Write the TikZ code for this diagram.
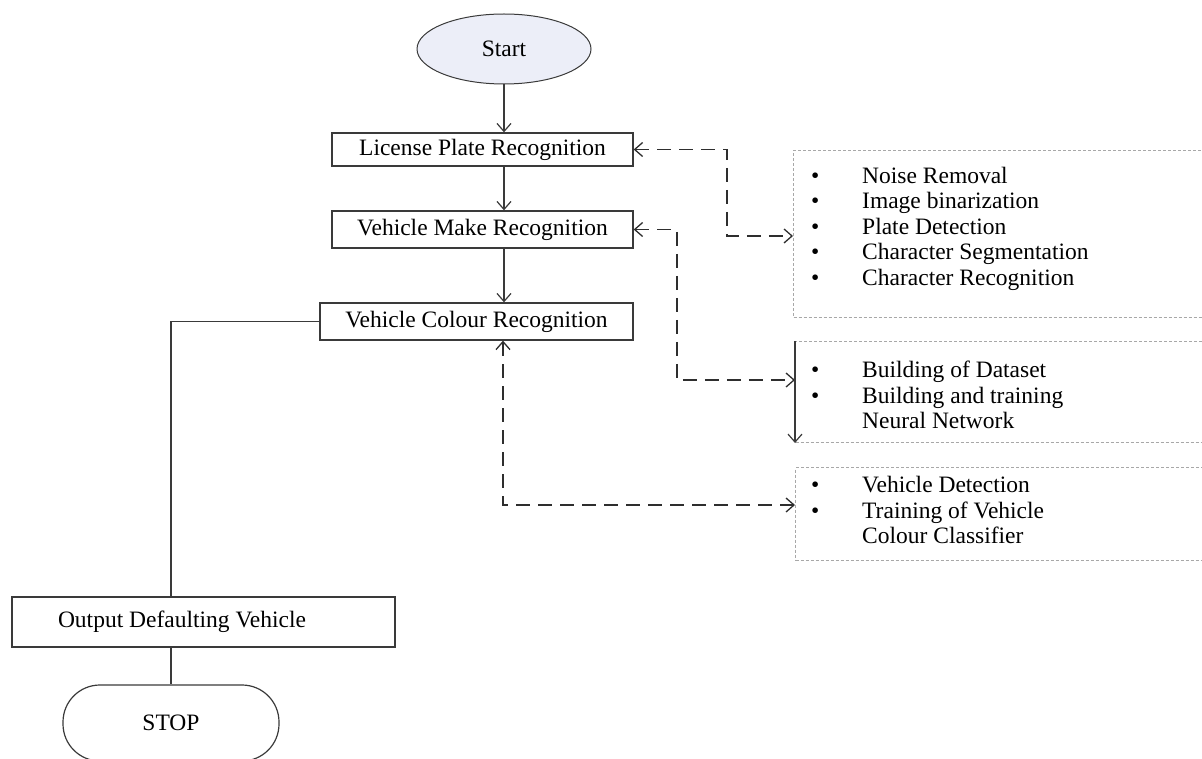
\documentclass[tikz,border=0pt]{standalone}
\usepackage{fontspec}
\setmainfont{Liberation Serif}
\usetikzlibrary{arrows.meta,shapes.geometric}
\definecolor{ln}{HTML}{3A3A3A}
\definecolor{dln}{HTML}{2E2E2E}
\definecolor{startfill}{HTML}{ECEEF8}
\definecolor{boxgray}{HTML}{A8A8A8}
\begin{document}
\begin{tikzpicture}[x=1pt,y=-1pt,
  every node/.style={font=\fontsize{23.5}{25.5}\selectfont, text=black},
  flowbox/.style={draw=ln, line width=1.3pt, rectangle, inner sep=0pt},
  infobox/.style={draw=boxgray, line width=1pt, dash pattern=on 3pt off 2pt, rectangle, inner sep=0pt, anchor=north west},
  arr/.style={draw=ln, line width=1.2pt, -{Straight Barb[length=8pt,width=14pt]}},
  dconn/.style={draw=dln, line width=1.9pt, dash pattern=on 14pt off 8pt, {Straight Barb[length=8pt,width=14pt,line width=1.3pt]}-{Straight Barb[length=8pt,width=14pt,line width=1.3pt]}},
  plain/.style={draw=ln, line width=1.3pt},
  listtext/.style={anchor=west, inner sep=0pt}
]
\useasboundingbox (0,0) rectangle (1202,759);
\clip (0,0) rectangle (1202,759);

% main flow
\node[ellipse, draw=ln, line width=1pt, fill=startfill, minimum width=174pt, minimum height=70pt, inner sep=0pt] (start) at (504,49) {Start};
\node[flowbox, minimum width=301pt, minimum height=33pt] (lpr) at (482.5,149.5) {License Plate Recognition};
\node[flowbox, minimum width=301pt, minimum height=37pt] (vmr) at (482.5,229.5) {Vehicle Make Recognition};
\node[flowbox, minimum width=313pt, minimum height=37pt] (vcr) at (476.5,321.5) {Vehicle Colour Recognition};
\node[flowbox, minimum width=383pt, minimum height=50pt] (outb) at (203.5,622) {};
\node[inner sep=0pt] (outt) at (182,622) {Output Defaulting Vehicle};
\node[draw=ln, line width=1.2pt, rectangle, rounded corners=37pt, minimum width=216pt, minimum height=76pt, inner sep=0pt] (stop) at (171,723) {STOP};

% info boxes
\node[infobox, minimum width=430pt, minimum height=167pt] (b1) at (793,150) {};
\node[infobox, minimum width=430pt, minimum height=101pt] (b2) at (795,341) {};
\node[infobox, minimum width=430pt, minimum height=93pt] (b3) at (795,467) {};

\node[listtext] (l1) at (811,229) {\begin{tabular}{@{}p{51pt}@{}l@{}}
\textbullet & Noise Removal\\
\textbullet & Image binarization\\
\textbullet & Plate Detection\\
\textbullet & Character Segmentation\\
\textbullet & Character Recognition
\end{tabular}};
\node[listtext] (l2) at (811,398) {\begin{tabular}{@{}p{51pt}@{}l@{}}
\textbullet & Building of Dataset\\
\textbullet & Building and training\\
 & Neural Network
\end{tabular}};
\node[listtext] (l3) at (811,513) {\begin{tabular}{@{}p{51pt}@{}l@{}}
\textbullet & Vehicle Detection\\
\textbullet & Training of Vehicle\\
 & Colour Classifier
\end{tabular}};

% flow connectors
\draw[arr] (start.south) -- (start.south |- lpr.north);
\draw[arr] (start.south |- lpr.south) -- (start.south |- vmr.north);
\draw[arr] (start.south |- vmr.south) -- (start.south |- vcr.north);
\draw[plain] (vcr.west) -| (stop.north |- outb.north);
\draw[plain] (stop.north |- outb.south) -- (stop.north);

% dashed connectors
\coordinate (k1) at (727,236);
\coordinate (k2) at (677,380);
\coordinate (k3) at (503,505);
\draw[dconn] (lpr.east) -| (k1) -- (k1 -| b1.west);
\draw[dconn] (vmr.east) -| (k2) -- (k2 -| b2.west);
\draw[dconn] (k3 |- vcr.south) -- (k3) -- (k3 -| b3.west);
\draw[arr] (b2.north west) -- (b2.south west);
\end{tikzpicture}
\end{document}
